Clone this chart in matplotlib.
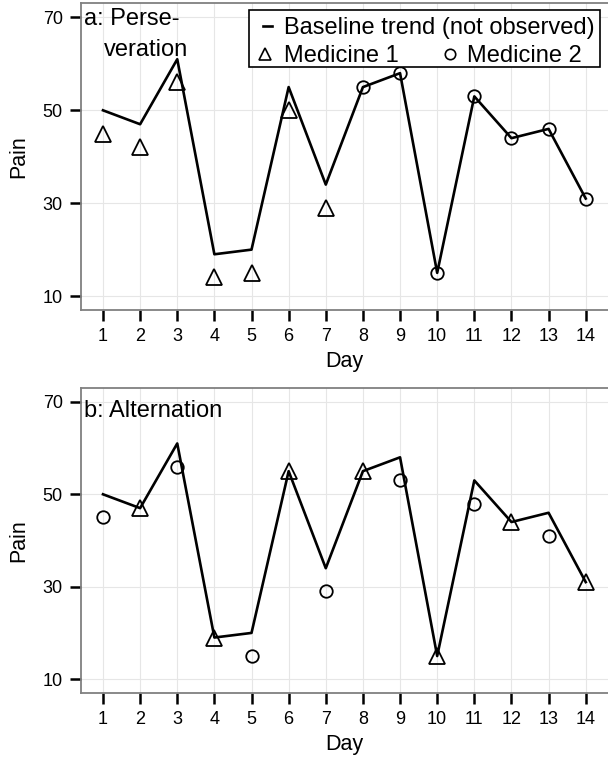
import matplotlib
matplotlib.use("Agg")
import matplotlib.pyplot as plt
from matplotlib.lines import Line2D
from matplotlib.patches import Rectangle

plt.rcParams['font.family'] = ['Liberation Sans', 'DejaVu Sans']

# Data
days = list(range(1, 15))
baseline = [50, 47, 61, 19, 20, 55, 34, 55, 58, 15, 53, 44, 46, 31]

# a: perseveration (medicine 1 first week, medicine 2 second week)
a_med1_days = [1, 2, 3, 4, 5, 6, 7]
a_med1_pain = [45, 42, 56, 14, 15, 50, 29]
a_med2_days = [8, 9, 10, 11, 12, 13, 14]
a_med2_pain = [55, 58, 15, 53, 44, 46, 31]

# b: alternation
b_med1_days = [2, 4, 6, 8, 10, 12, 14]
b_med1_pain = [47, 19, 55, 55, 15, 44, 31]
b_med2_days = [1, 3, 5, 7, 9, 11, 13]
b_med2_pain = [45, 56, 15, 29, 53, 48, 41]

y_ticks = [10, 30, 50, 70]

W, H = 608, 759
fig = plt.figure(figsize=(W / 100, H / 100), dpi=100)


def box(x0, y0, x1, y1):
    # pixel box (top-left origin) -> figure fraction rect
    return [x0 / W, 1 - y1 / H, (x1 - x0) / W, (y1 - y0) / H]


def px(x, y):
    return x / W, 1 - y / H


def setup(ax):
    ax.set_xlim(0.4, 14.6)
    ax.set_ylim(7, 73)
    ax.set_xticks(days)
    ax.set_yticks(y_ticks)
    ax.grid(True, color='#e6e6e6', lw=0.8)
    ax.set_axisbelow(True)
    for s in ['left', 'top', 'bottom']:
        ax.spines[s].set_color('#808080')
        ax.spines[s].set_linewidth(1.3)
    ax.spines['right'].set_visible(False)
    ax.tick_params(direction='out', length=8, width=1.8, color='black',
                   labelsize=13, pad=5)
    ax.set_xlabel('Day', fontsize=15.5)
    ax.set_ylabel('Pain', fontsize=15.5)
    ax.yaxis.set_label_coords(-0.098, 0.5)
    ax.xaxis.set_label_coords(0.5, -0.133)


def draw(ax, m1_days, m1_pain, m2_days, m2_pain):
    ax.plot(days, baseline, color='black', lw=1.9, zorder=3)
    ax.plot(m1_days, m1_pain, ls='none', marker='^', ms=11, mfc='none',
            mec='black', mew=1.3, zorder=4, clip_on=False)
    ax.plot(m2_days, m2_pain, ls='none', marker='o', ms=9, mfc='none',
            mec='black', mew=1.3, zorder=4, clip_on=False)


ax_a = fig.add_axes(box(80.7, 3.5, 608, 310))
setup(ax_a)
draw(ax_a, a_med1_days, a_med1_pain, a_med2_days, a_med2_pain)

ax_b = fig.add_axes(box(80.7, 388, 608, 693))
setup(ax_b)
draw(ax_b, b_med1_days, b_med1_pain, b_med2_days, b_med2_pain)

# panel labels
fs = 17
fig.text(*px(84, 25), 'a: Perse-', fontsize=fs, va='baseline', ha='left')
fig.text(*px(104, 56), 'veration', fontsize=fs, va='baseline', ha='left')
fig.text(*px(84, 417), 'b: Alternation', fontsize=fs, va='baseline', ha='left')

# legend (drawn by hand: one wide row above a two-item row)
fig.add_artist(Rectangle(px(249, 67), (600 - 249) / W, (67 - 10) / H,
                         transform=fig.transFigure, fc='white', ec='black',
                         lw=1.2, zorder=5))
fig.add_artist(Line2D([263 / W, 272 / W], [1 - 26 / H, 1 - 26 / H],
                      transform=fig.transFigure, color='black', lw=1.9, zorder=6))
fig.text(*px(284, 34), 'Baseline trend (not observed)', fontsize=fs,
         va='baseline', ha='left', zorder=6)
fig.add_artist(Line2D([265 / W], [1 - 53.5 / H], transform=fig.transFigure,
                      ls='none', marker='^', ms=8, mfc='none', mec='black',
                      mew=1.2, zorder=6))
fig.text(*px(284, 62), 'Medicine 1', fontsize=fs, va='baseline', ha='left', zorder=6)
fig.add_artist(Line2D([450 / W], [1 - 53.5 / H], transform=fig.transFigure,
                      ls='none', marker='o', ms=7.5, mfc='none', mec='black',
                      mew=1.2, zorder=6))
fig.text(*px(467, 62), 'Medicine 2', fontsize=fs, va='baseline', ha='left', zorder=6)

fig.savefig('out.png', dpi=100)
